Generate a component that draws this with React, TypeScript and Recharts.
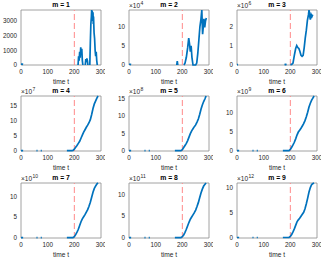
import React from 'react';
import { LineChart, Line, XAxis, YAxis, ReferenceLine, ReferenceArea } from 'recharts';

const X_TICKS = [0, 100, 200, 300];
const FONT = '"Liberation Sans", Arial, Helvetica, sans-serif';
const BLUE = '#0072BD';

// m = 1 (raw values)
const T1 = [0, 4, 8, 9, 214, 216, 218, 220, 222, 224, 226, 228, 230, 232, 233, 241, 243, 245, 247, 249, 251, 252, 258, 260, 262, 264, 265, 266, 267, 268, 270, 271, 272, 274, 276, 278, 280, 282, 284, 286];
const V1 = [60, 60, 40, null, 0, 600, 300, 900, 500, 1200, 800, 1100, 300, 0, null, 0, 400, 200, 450, 300, 0, null, 0, 1500, 2800, 3300, 3750, 3000, 3700, 3400, 3600, 2800, 3300, 2200, 1800, 1000, 600, 900, 300, 0];

// m = 2 (x 10^4)
const T2 = [0, 4, 8, 9, 179, 181, 183, 184, 206, 210, 215, 220, 224, 227, 230, 233, 236, 240, 244, 250, 254, 258, 262, 266, 270, 273, 276, 278, 281, 284, 287, 290];
const V2 = [0.2, 0.2, 0.1, null, 0, 1.0, 0, null, 0, 0.5, 2, 4.5, 7, 5.5, 3.5, 5, 2, 0, 0, 0, 0.5, 3, 6.5, 10, 12, 14.3, 8, 9.5, 12, 9.8, 11.5, 12.2];

// m = 3 (x 10^6)
const T3 = [0, 4, 5, 178, 182, 186, 187, 200, 205, 210, 215, 220, 224, 228, 232, 236, 240, 244, 248, 252, 256, 260, 264, 268, 270, 273, 275, 278, 281, 284];
const V3 = [0.02, 0.02, null, 0.02, 0.03, 0.02, null, 0.02, 0.03, 0.1, 0.5, 0.85, 1.0, 0.9, 0.85, 0.7, 0.5, 0.45, 0.5, 0.9, 1.4, 1.8, 2.3, 2.6, 2.84, 2.5, 2.35, 2.6, 2.5, 2.6];

// m = 4..9 share the time grid
const T_GROW = [0, 4, 8, 9, 58, 62, 63, 74, 78, 79, 172, 178, 184, 190, 195, 200, 205, 210, 215, 220, 225, 230, 235, 240, 245, 250, 255, 260, 265, 270, 275, 280, 285, 289];
const V4 = [0.1, 0.1, 0.1, null, 0.1, 0.1, null, 0.1, 0.1, null, 0.1, 0.1, 0.1, 0.1, 0.2, 0.6, 1.2, 1.8, 2.5, 3.2, 4.2, 5.2, 6.2, 7.0, 7.8, 8.5, 9.3, 10.3, 12, 14, 15.5, 16.5, 17.5, 18.1];
const V5 = [0.1, 0.1, 0.1, null, 0.1, 0.1, null, 0.1, 0.1, null, 0.1, 0.1, 0.1, 0.1, 0.1, 0.4, 1.0, 1.6, 2.2, 3.0, 4.0, 5.0, 5.8, 6.4, 7.0, 7.5, 8.3, 9.2, 10.5, 12, 13.2, 14.2, 15.0, 15.8];
const V6 = [0.1, 0.1, 0.1, null, 0.1, 0.1, null, 0.1, 0.1, null, 0.1, 0.1, 0.1, 0.1, 0.1, 0.4, 1.0, 1.6, 2.3, 3.2, 4.2, 5.0, 5.5, 6.0, 6.6, 7.2, 8.0, 9.0, 10.2, 11.6, 12.6, 13.4, 14.0, 14.5];
const V7 = [0.1, 0.1, 0.1, null, 0.1, 0.1, null, 0.1, 0.1, null, 0.1, 0.1, 0.1, 0.1, 0.1, 0.3, 0.8, 1.4, 2.1, 3.0, 3.9, 4.6, 5.1, 5.6, 6.2, 6.8, 7.6, 8.6, 9.8, 11.0, 11.9, 12.5, 13.0, 13.2];
const V8 = [0.1, 0.1, 0.1, null, 0.1, 0.1, null, 0.1, 0.1, null, 0.1, 0.1, 0.1, 0.1, 0.1, 0.3, 0.7, 1.3, 2.0, 2.8, 3.6, 4.3, 4.8, 5.3, 5.8, 6.4, 7.2, 8.1, 9.2, 10.3, 11.2, 11.9, 12.3, 12.6];
const V9 = [0.1, 0.1, 0.1, null, 0.1, 0.1, null, 0.1, 0.1, null, 0.1, 0.1, 0.1, 0.1, 0.1, 0.3, 0.7, 1.2, 1.8, 2.5, 3.2, 3.6, 3.9, 4.3, 4.7, 5.1, 5.8, 6.8, 7.9, 9.1, 10.0, 10.6, 10.8, 10.9];

const PANELS = [
  { title: 'm = 1', t: T1, v: V1, yMax: 3750, yTicks: [0, 1000, 2000, 3000], exp: null },
  { title: 'm = 2', t: T2, v: V2, yMax: 14.3, yTicks: [0, 5, 10], exp: 4 },
  { title: 'm = 3', t: T3, v: V3, yMax: 2.84, yTicks: [0, 1, 2], exp: 6 },
  { title: 'm = 4', t: T_GROW, v: V4, yMax: 18.1, yTicks: [0, 5, 10, 15], exp: 7 },
  { title: 'm = 5', t: T_GROW, v: V5, yMax: 15.8, yTicks: [0, 5, 10, 15], exp: 8 },
  { title: 'm = 6', t: T_GROW, v: V6, yMax: 14.5, yTicks: [0, 5, 10], exp: 9 },
  { title: 'm = 7', t: T_GROW, v: V7, yMax: 13.2, yTicks: [0, 5, 10], exp: 10 },
  { title: 'm = 8', t: T_GROW, v: V8, yMax: 12.6, yTicks: [0, 5, 10], exp: 11 },
  { title: 'm = 9', t: T_GROW, v: V9, yMax: 10.9, yTicks: [0, 5, 10], exp: 12 },
];

// plot box geometry
const COLS = [21, 129, 237];
const ROWS = [10, 96, 183];
const PW = 80;
const PH = 55;
const YW = 30;

const tickStyle = { fontSize: 6.3, fill: '#262626', fontFamily: FONT };

const Panel = ({ p, left, top }: { p: any; left: number; top: number }) => {
  const data = p.t.map((t: number, i: number) => ({ t, v: p.v[i] }));
  return (
    <>
      <div style={{ position: 'absolute', left: left - YW, top: top - 10 }}>
        <LineChart width={PW + YW + 4} height={PH + 22} data={data}
          margin={{ top: 10, right: 4, bottom: 0, left: 0 }}>
          <XAxis dataKey="t" type="number" domain={[0, 300]} ticks={X_TICKS}
            axisLine={false} tickLine={false} tickSize={0} tickMargin={5}
            tick={tickStyle} height={12} interval={0} />
          <YAxis type="number" domain={[0, p.yMax]} ticks={p.yTicks}
            axisLine={false} tickLine={false} tickSize={0} tickMargin={4}
            tick={tickStyle} width={YW} interval={0} />
          <ReferenceArea x1={0} x2={300} y1={0} y2={p.yMax}
            fill="#fff" fillOpacity={0} stroke="#8c8c8c" strokeWidth={0.8} />
          <ReferenceLine x={200} stroke="#ff8a8a" strokeDasharray="6 3" strokeWidth={1} />
          <Line type="linear" dataKey="v" stroke={BLUE} strokeWidth={1.7}
            dot={false} connectNulls={false} isAnimationActive={false} />
        </LineChart>
      </div>
      <div style={{
        position: 'absolute', left: left + PW / 2, top: top - 5, transform: 'translate(-50%, -50%)',
        fontFamily: FONT, fontSize: 6.8, fontWeight: 'bold', color: '#000', whiteSpace: 'nowrap', lineHeight: 1,
      }}>{p.title}</div>
      <div style={{
        position: 'absolute', left: left + PW / 2, top: top + PH + 17, transform: 'translate(-50%, -50%)',
        fontFamily: FONT, fontSize: 6.6, color: '#262626', whiteSpace: 'nowrap', lineHeight: 1,
      }}>time t</div>
      {p.exp !== null && (
        <div style={{
          position: 'absolute', left: left, top: top - 4, transform: 'translateY(-50%)',
          fontFamily: FONT, fontSize: 6.5, color: '#262626', whiteSpace: 'nowrap', lineHeight: 1,
        }}>
          ×10<sup style={{ fontSize: 5, verticalAlign: 'top', position: 'relative', top: -2.5, marginLeft: 0.5 }}>{p.exp}</sup>
        </div>
      )}
    </>
  );
};

export default function App() {
  return (
    <div style={{ position: 'absolute', left: 0, top: 0, width: 324, height: 262, background: '#fff', overflow: 'hidden' }}>
      {PANELS.map((p, i) => (
        <Panel key={p.title} p={p} left={COLS[i % 3]} top={ROWS[Math.floor(i / 3)]} />
      ))}
    </div>
  );
}
